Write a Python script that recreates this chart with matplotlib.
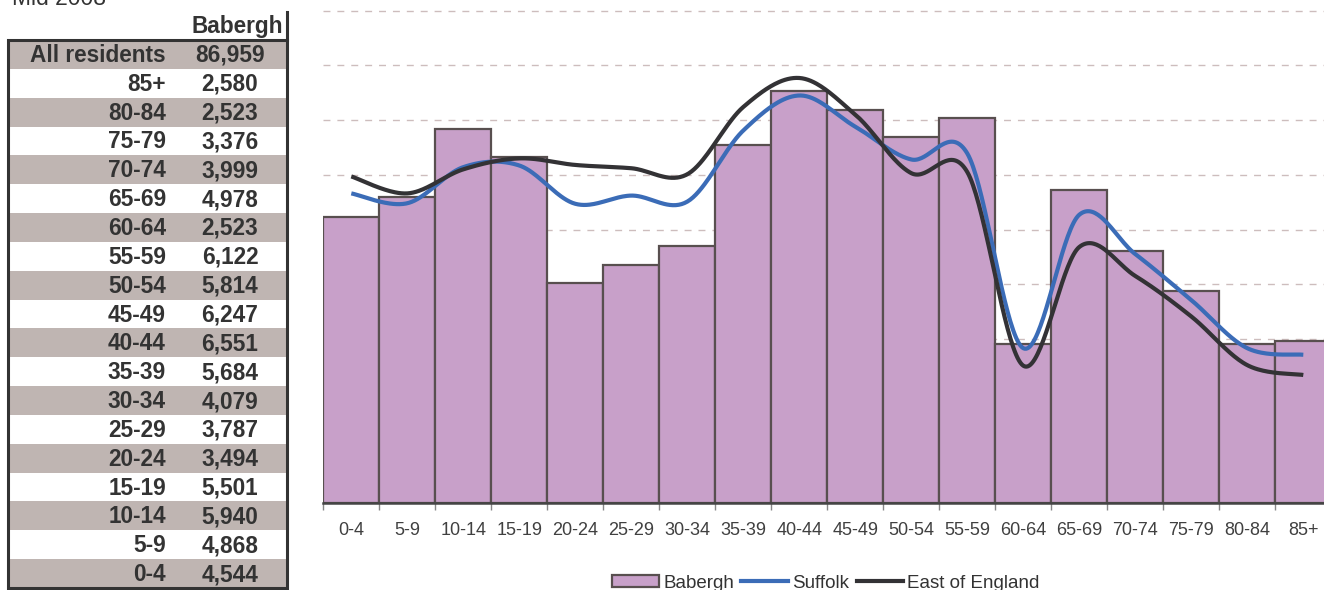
import numpy as np
import matplotlib
matplotlib.use("Agg")
import matplotlib.pyplot as plt
from matplotlib.patches import Rectangle, Patch
from matplotlib.lines import Line2D

plt.rcParams["font.family"] = ["Liberation Sans", "DejaVu Sans"]

# data
ages = ["0-4", "5-9", "10-14", "15-19", "20-24", "25-29", "30-34", "35-39", "40-44",
        "45-49", "50-54", "55-59", "60-64", "65-69", "70-74", "75-79", "80-84", "85+"]
babergh = [4544, 4868, 5940, 5501, 3494, 3787, 4079, 5684, 6551,
           6247, 5814, 6122, 2523, 4978, 3999, 3376, 2523, 2580]
all_residents = 86959
# Suffolk and East of England, % of population
suffolk = [5.66, 5.48, 6.14, 6.17, 5.47, 5.62, 5.51, 6.81, 7.45,
           6.88, 6.28, 6.39, 2.83, 5.27, 4.55, 3.71, 2.83, 2.71]
east = [5.97, 5.66, 6.10, 6.30, 6.18, 6.12, 6.01, 7.24, 7.77,
        7.10, 6.03, 6.05, 2.51, 4.68, 4.15, 3.41, 2.52, 2.34]

BAR = "#c8a0c9"
EDGE = "#584f4f"
BLUE = "#3b6cb7"
BLACK = "#333235"
GREY = "#bfb5b2"
TXT = "#333333"


def smooth(vals, n=40):
    """Excel-like smoothed line (Catmull-Rom as Bezier)."""
    p = np.asarray(vals, dtype=float)
    x = np.arange(len(p), dtype=float)
    t = np.linspace(0, 1, n)
    xs, ys = [], []
    last = len(p) - 1
    for i in range(last):
        i0, i3 = max(i - 1, 0), min(i + 2, last)
        for arr, out in ((x, xs), (p, ys)):
            a, d = arr[i], arr[i + 1]
            b = a + (d - arr[i0]) / 6
            c = d - (arr[i3] - a) / 6
            out.append((1 - t) ** 3 * a + 3 * (1 - t) ** 2 * t * b
                       + 3 * (1 - t) * t ** 2 * c + t ** 3 * d)
    return np.concatenate(xs), np.concatenate(ys)


fig = plt.figure(figsize=(13.24, 5.9), dpi=100)

# chart
pct = np.array(babergh) / all_residents * 100
top = 9.1
ax = fig.add_axes([323.3 / 1324, 87 / 590, 1008 / 1324, top * 54.7 / 590])
pos = np.arange(len(ages))
ax.bar(pos, pct, width=1.0, color=BAR, edgecolor=EDGE, linewidth=1.6, zorder=2)
for vals, col in ((suffolk, BLUE), (east, BLACK)):
    sx, sy = smooth(vals)
    ax.plot(sx, sy, color=col, linewidth=3, solid_capstyle="butt", zorder=3)

ax.set_xlim(-0.5, len(ages) - 0.5)
ax.set_ylim(0, top)
ax.set_yticks(range(1, 10))
ax.yaxis.grid(True, color="#cdbdbd", linestyle=(0, (5, 5)), linewidth=1)
ax.set_axisbelow(True)
ax.tick_params(axis="y", left=False, labelleft=False)
for s in ("left", "right", "top"):
    ax.spines[s].set_visible(False)
ax.spines["bottom"].set_color("#444444")
ax.spines["bottom"].set_linewidth(1.8)
ax.set_xticks(np.arange(-0.5, len(ages)), labels=[])
ax.set_xticks(pos, labels=ages, minor=True)
ax.tick_params(axis="x", which="major", length=5, width=1, color="#888888")
ax.tick_params(axis="x", which="minor", length=0, pad=14, labelsize=13,
               labelcolor="#404040")

handles = [Patch(facecolor=BAR, edgecolor=EDGE, linewidth=1.6),
           Line2D([], [], color=BLUE, linewidth=3),
           Line2D([], [], color=BLACK, linewidth=3)]
fig.legend(handles, ["Babergh", "Suffolk", "East of England"],
           loc="center", bbox_to_anchor=(826 / 1324, 7 / 590), ncol=3,
           frameon=False, fontsize=13.5, handlelength=2.5, handleheight=0.6,
           handletextpad=0.2, columnspacing=0.4, labelcolor="#333333")

# table on the left, drawn in pixel coordinates
tab = fig.add_axes([0, 0, 1, 1], zorder=-1)
tab.set_xlim(0, 1324)
tab.set_ylim(590, 0)
tab.axis("off")

fig.text(12 / 1324, 1 - 5 / 590, "Mid 2008", fontsize=16.5, color=TXT, va="baseline")

box_l, box_r, box_t, box_b = 8, 287, 40, 588
rows = [("All residents", all_residents)] + list(zip(ages[::-1], babergh[::-1]))
rh = (box_b - box_t) / len(rows)
for i, (lab, val) in enumerate(rows):
    y0 = box_t + i * rh
    if i % 2 == 0:
        tab.add_patch(Rectangle((box_l, y0), box_r - box_l, rh, facecolor=GREY,
                                edgecolor="none"))
    tab.text(166, y0 + rh / 2 + 1, lab, ha="right", va="center", fontsize=16.3,
             fontweight="bold", color=TXT)
    tab.text(230, y0 + rh / 2 + 1, f"{val:,}", ha="center", va="center",
             fontsize=16.3, fontweight="bold", color=TXT)
tab.add_patch(Rectangle((box_l, box_t), box_r - box_l, box_b - box_t,
                        facecolor="none", edgecolor="#333333", linewidth=2.2))
tab.plot([box_r, box_r], [12, box_t], color="#333333", linewidth=2.2)
tab.text(237, 27, "Babergh", ha="center", va="center", fontsize=16.3,
         fontweight="bold", color=TXT)

fig.savefig("out.png", dpi=100)
